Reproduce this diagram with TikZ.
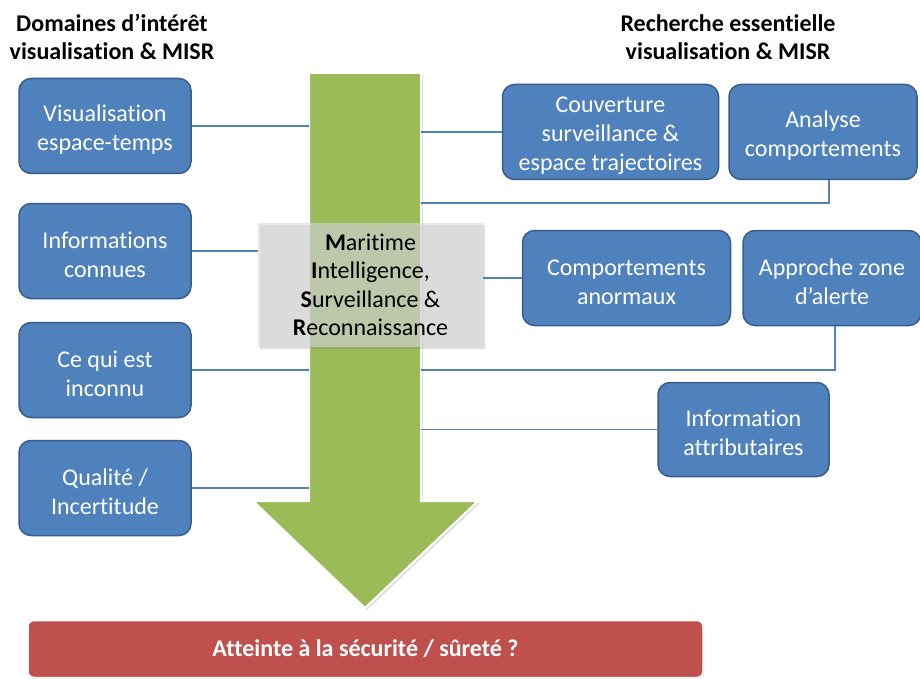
\documentclass[tikz,border=0pt]{standalone}
\usepackage{fontspec}
\setmainfont{Carlito}[Ligatures=NoCommon]
\usetikzlibrary{shadows}
\definecolor{boxblue}{HTML}{4F81BD}
\definecolor{boxedge}{HTML}{385D8A}
\definecolor{arrowgreen}{HTML}{9BBB59}
\definecolor{barred}{HTML}{C0504D}
\newcommand\tup{\rule{0pt}{24pt}}
\begin{document}
\begin{tikzpicture}[x=1pt,y=-1pt,
  bbox/.style={draw=boxedge, line width=1.5pt, fill=boxblue, rounded corners=12pt,
    text=white, align=center, font=\fontsize{24}{29}\selectfont, inner sep=0pt},
  link/.style={draw=boxblue, line width=1.3pt},
  title/.style={align=center, font=\bfseries\fontsize{24}{28}\selectfont, inner sep=0pt}]
\useasboundingbox (0,0) rectangle (920,679);
\fill[white] (0,0) rectangle (920,679);

% big green arrow
\fill[black!25, opacity=0.5, shift={(2,2)}] (309,73) -- (421,73) -- (421,501) -- (478,501) -- (365,608) -- (253,501) -- (309,501) -- cycle;
\draw[white, line width=2pt, fill=arrowgreen] (309,73) -- (421,73) -- (421,501) -- (478,501) -- (365,608) -- (253,501) -- (309,501) -- cycle;
\node (shaft) [minimum width=112pt, minimum height=428pt, inner sep=0pt] at (365,287) {};

% titles
\node[title] (tl) at (112,37) {Domaines d’intérêt\\visualisation \& MISR};
\node[title] (tr) at (728,37) {Recherche essentielle\\visualisation \& MISR};

% left boxes
\node[bbox, minimum width=172pt, minimum height=95pt] (v1) at (105,126) {\tup Visualisation\\espace-temps};
\node[bbox, minimum width=172pt, minimum height=95pt] (v2) at (105,251) {\tup Informations\\connues};
\node[bbox, minimum width=172pt, minimum height=95pt] (v3) at (105,370) {\tup Ce qui est\\inconnu};
\node[bbox, minimum width=172pt, minimum height=95pt] (v4) at (105,488) {\tup Qualité /\\Incertitude};

% right boxes
\node[bbox, minimum width=216pt, minimum height=95pt] (couv) at (610.5,132) {\tup Couverture\\surveillance \&\\espace trajectoires};
\node[bbox, minimum width=188pt, minimum height=95pt] (anal) at (823,132) {\tup Analyse\\comportements};
\node[bbox, minimum width=208pt, minimum height=95pt] (anor) at (626.5,278) {\tup Comportements\\anormaux};
\node[bbox, minimum width=178pt, minimum height=95pt] (appr) at (832,278) {\tup Approche zone\\d’alerte};
\node[bbox, minimum width=171pt, minimum height=94pt] (info) at (743.5,429.5) {\tup Information\\attributaires};

% MISR box
\node[fill=gray!30, fill opacity=0.6, text opacity=1, minimum width=225pt, minimum height=124pt,
  align=center, font=\fontsize{24}{28.5}\selectfont, inner sep=0pt,
  drop shadow={opacity=0.25, shadow xshift=2pt, shadow yshift=-2pt}] (misr) at (370.5,285)
  {\textbf{M}aritime\\\textbf{I}ntelligence,\\\textbf{S}urveillance \&\\\textbf{R}econnaissance};

% red bar
\node[draw=white, line width=1.5pt, fill=barred, rounded corners=6pt, minimum width=675pt, minimum height=57pt,
  text=white, font=\bfseries\fontsize{24}{27}\selectfont, inner sep=0pt,
  drop shadow={opacity=0.3, shadow xshift=1pt, shadow yshift=-1pt}] (bar) at (365.5,649) {Atteinte à la sécurité / sûreté ?};

% connectors left
\draw[link] (v1.east) -- (v1.east -| shaft.west);
\draw[link] (v2.east) -- (v2.east -| misr.west);
\draw[link] (v3.east) -- (v3.east -| shaft.west);
\draw[link] (v4.east) -- (v4.east -| shaft.west);

% connectors right
\draw[link] (couv.west -| shaft.east) -- (couv.west);
\draw[link] ([xshift=6pt]anal.south) |- (shaft.east |- 0,203);
\draw[link] (misr.east |- anor.west) -- (anor.west);
\draw[link] ([xshift=3pt]appr.south) |- (shaft.east |- 0,370);
\draw[link] (info.west -| shaft.east) -- (info.west);
\end{tikzpicture}
\end{document}
